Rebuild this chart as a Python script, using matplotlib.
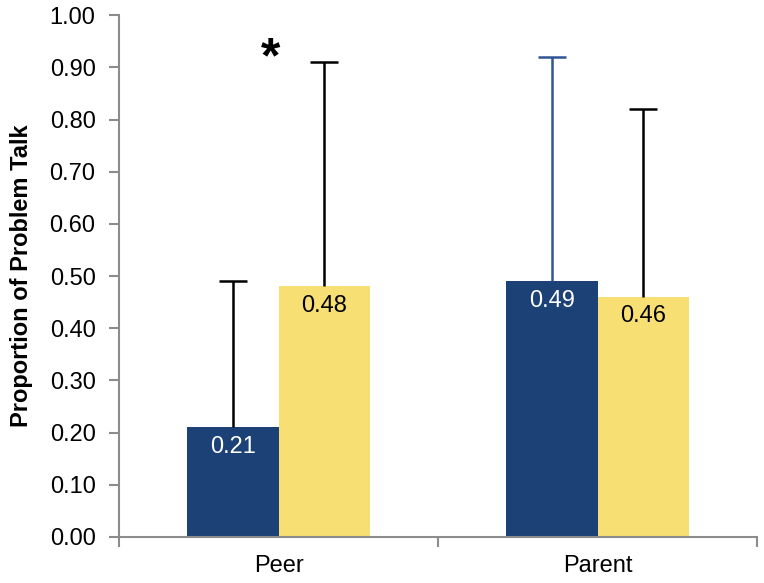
import numpy as np
import matplotlib
matplotlib.use("Agg")
import matplotlib.pyplot as plt

plt.rcParams["font.family"] = ["Liberation Sans", "DejaVu Sans"]

categories = ["Peer", "Parent"]
blue_vals = [0.21, 0.49]
yellow_vals = [0.48, 0.46]
blue_err = [0.28, 0.43]
yellow_err = [0.43, 0.36]
blue_err_colors = ["black", "#2f5597"]
yellow_err_colors = ["black", "black"]

BLUE = "#1b4176"
YELLOW = "#f8df73"
GRAY = "#8c8c8c"
FS = 17

fig = plt.figure(figsize=(7.64, 5.83), dpi=100)
ax = fig.add_axes([0.156, 0.079, 0.835, 0.895])

x = np.arange(len(categories))
w = 0.287


def upper_err(xpos, base, err, color):
    # one-sided (upper) error bar with a cap on top only
    ax.vlines(xpos, base, base + err, color=color, lw=1.8, zorder=3)
    ax.plot([xpos], [base + err], marker="_", markersize=20,
            markeredgewidth=1.8, color=color, zorder=3)


ax.bar(x - w / 2, blue_vals, width=w, color=BLUE, zorder=2)
ax.bar(x + w / 2, yellow_vals, width=w, color=YELLOW, zorder=2)

for i in range(len(categories)):
    upper_err(x[i] - w / 2, blue_vals[i], blue_err[i], blue_err_colors[i])
    upper_err(x[i] + w / 2, yellow_vals[i], yellow_err[i], yellow_err_colors[i])
    ax.text(x[i] - w / 2, blue_vals[i] - 0.016, f"{blue_vals[i]:.2f}",
            ha="center", va="top", color="white", fontsize=FS, zorder=4)
    ax.text(x[i] + w / 2, yellow_vals[i] - 0.016, f"{yellow_vals[i]:.2f}",
            ha="center", va="top", color="black", fontsize=FS, zorder=4)

ax.text(-0.025, 0.915, "*", ha="center", va="center", fontsize=36,
        fontweight="bold")

ax.set_xlim(-0.5, 1.5)
ax.set_ylim(0, 1.0)
yticks = np.arange(0, 1.01, 0.1)
ax.set_yticks(yticks)
ax.set_yticklabels([f"{v:.2f}" for v in yticks], fontsize=FS)
ax.set_xticks(x)
ax.set_xticklabels(categories, fontsize=FS)
ax.set_xticks([-0.5, 0.5, 1.5], minor=True)
ax.tick_params(axis="x", which="major", length=0, pad=13)
ax.tick_params(axis="x", which="minor", length=7, color=GRAY, width=1.5)
ax.tick_params(axis="y", length=7, color=GRAY, width=1.5, pad=10)

for side in ["top", "right"]:
    ax.spines[side].set_visible(False)
for side in ["left", "bottom"]:
    ax.spines[side].set_color(GRAY)
    ax.spines[side].set_linewidth(1.5)

ax.set_ylabel("Proportion of Problem Talk", fontsize=FS, fontweight="bold",
              labelpad=12)

fig.savefig("out.png", dpi=100)
